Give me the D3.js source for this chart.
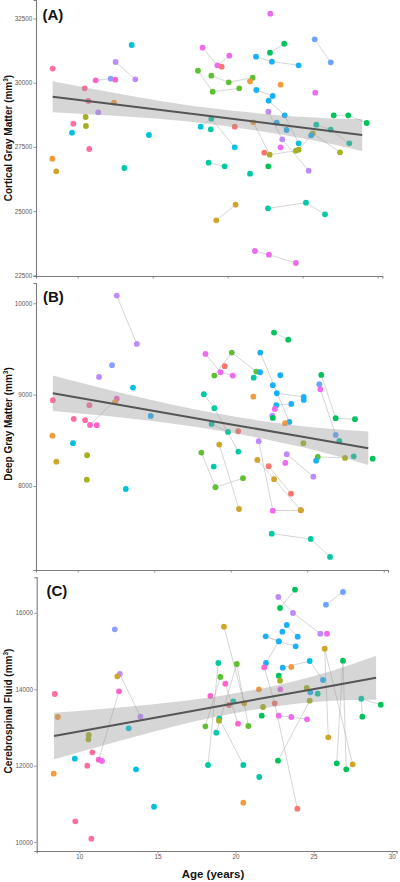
<!DOCTYPE html>
<html>
<head>
<meta charset="utf-8">
<script src="https://cdn.jsdelivr.net/npm/d3@7"></script>
<style>
  html, body { margin: 0; padding: 0; background: #fff; }
  svg { display: block; font-family: "Liberation Sans", Arial, sans-serif; }
</style>
</head>
<body>
<svg id="chart" width="400" height="882"></svg>
<script>
// ---------------- DATA ----------------
const ageTicks = [10, 15, 20, 25, 30];
const cgmTicks = [22500, 25000, 27500, 30000, 32500];
const dgmTicks = [8000, 9000, 10000];
const csfTicks = [10000, 12000, 14000, 16000];

const panelLabels = ["(A)", "(B)", "(C)"];
const yTitles = ["Cortical Gray Matter (mm", "Deep Gray Matter (mm", "Cerebrospinal Fluid (mm"];
const xTitle = "Age (years)";

// subject colour keys (ggplot hue-like palette)
const subjectColors = {
  hp: "#FF6E9E", pk: "#FF62C8", mg: "#EE6AEE", lv: "#BE8AFF", pw: "#8C9EFF",
  lb: "#6DA3FF", bl: "#1AB0F6", cy: "#00C2DC", tq: "#00C9A4", gr: "#00C25A",
  lm: "#5FC034", ol: "#A5B022", gd: "#CFA52A", or: "#F39B3A", sa: "#F8766D"
};

// [colour, subject group (0 = single scan), age, volume]
const cgmPoints = [
  ["hp",0,8.33,30550],["or",0,8.31,27040],["gd",0,8.57,26550],["hp",0,9.71,28403],
  ["cy",0,9.62,28053],["hp",0,10.47,29782],["hp",0,10.71,29287],["ol",0,10.53,28664],
  ["ol",0,10.55,28314],["hp",0,10.77,27418],["lv",0,11.37,28847],
  ["pk",1,11.20,30093],["pw",1,12.20,30156],
  ["lv",2,12.53,30806],["lv",2,13.84,30132],
  ["pk",0,12.51,30117],["or",0,12.42,29221],["cy",0,13.60,31468],["tq",0,13.11,26678],
  ["cy",0,14.75,27963],
  ["mg",3,18.33,31363],["mg",3,19.31,30678],["mg",3,20.11,31051],
  ["sa",0,19.60,30623],
  ["lm",4,18.91,30273],["lm",4,20.07,30016],["lm",4,21.67,30195],
  ["or",0,21.49,30055],
  ["lm",5,18.02,30467],["lm",5,19.00,29650],["lm",5,20.77,29782],
  ["bl",6,21.89,31012],["bl",6,22.95,30818],["bl",6,24.73,30678],
  ["gr",7,22.82,31168],["gr",7,23.77,31519],
  ["mg",0,22.84,32687],
  ["lb",8,25.80,31690],["lb",8,26.87,30794],
  ["or",0,23.53,29922],["mg",0,25.84,29611],
  ["bl",9,21.91,29716],["bl",9,23.00,29482],
  ["bl",10,22.73,29299],["bl",10,23.80,28731],["cy",10,24.73,27640],
  ["lv",11,22.71,28871],["lv",11,23.64,27796],["lv",11,25.40,26573],
  ["gr",12,27.07,28731],["gr",12,28.04,28731],["gr",12,29.27,28431],
  ["cy",13,18.20,28287],["tq",13,18.91,28598],["cy",13,20.47,27484],
  ["tq",0,18.87,28185],["sa",0,20.47,28287],
  ["or",14,21.71,28458],["ol",14,22.80,27196],["ol",14,24.55,27352],
  ["sa",0,22.44,27274],
  ["bl",15,23.27,28442],["bl",15,23.93,28158],
  ["tq",16,25.91,28365],["tq",16,26.87,28170],["tq",16,28.11,27640],
  ["ol",17,24.73,27391],["ol",17,25.67,28030],["ol",17,27.49,27290],
  ["bl",0,25.57,27952],["mg",0,23.53,27484],
  ["tq",19,18.73,26885],["tq",19,19.80,26745],
  ["tq",0,21.49,26456],["gr",0,22.71,26745],
  ["gd",20,19.24,24642],["gd",20,20.53,25249],
  ["tq",21,22.69,25109],["tq",21,25.22,25327],["tq",21,26.49,24875],
  ["mg",22,21.82,23446],["mg",22,22.75,23302],["mg",22,24.55,22979]
];

const dgmPoints = [
  ["lv",1,12.55,10084],["lv",1,13.86,9555],
  ["pw",0,12.24,9322],["lv",0,11.39,9194],["cy",0,13.61,9077],["hp",0,8.37,8939],
  ["pk",2,12.55,8956],["pk",2,10.80,8668],
  ["or",0,12.44,8917],["hp",0,10.76,8884],["bl",0,14.77,8767],["hp",0,9.74,8734],
  ["hp",0,10.48,8720],["pk",0,11.24,8665],["or",0,8.34,8551],["cy",0,9.69,8468],
  ["gd",0,8.60,8266],["ol",0,10.61,8336],["ol",0,10.59,8069],["cy",0,13.14,7967],
  ["gr",3,22.83,9679],["gr",3,23.76,9602],
  ["mg",4,18.35,9446],["mg",4,19.33,9245],["mg",4,20.13,9208],
  ["lm",5,18.93,9208],["lm",5,20.07,9460],["lm",5,21.67,9252],
  ["sa",0,19.61,9311],["tq",0,21.50,9186],
  ["bl",6,21.93,9460],["bl",6,23.83,8701],
  ["bl",0,21.92,9245],["bl",0,23.24,9212],["bl",0,22.75,9103],
  ["bl",7,23.01,9015],["bl",7,24.77,8975],
  ["bl",0,24.77,8942],
  ["bl",8,22.98,8884],["bl",8,23.96,8898],
  ["mg",0,22.88,8843],["lv",0,22.72,8770],["gr",0,22.75,8745],["or",0,21.48,8978],
  ["tq",9,18.24,9004],["tq",9,18.93,8851],["tq",9,20.50,8376],
  ["tq",10,18.75,8679],["tq",10,19.82,8592],
  ["sa",0,20.49,8599],["or",0,23.55,8687],
  ["lv",11,21.83,8490],["mg",11,22.75,7730],["mg",11,24.58,7734],
  ["gd",12,21.74,8285],["gd",12,22.83,8074],["gd",12,24.58,7734],
  ["sa",13,22.48,8216],["sa",13,23.94,7916],
  ["lv",14,23.66,8347],["lv",14,25.40,8102],
  ["mg",0,23.57,8252],["ol",0,24.75,8468],
  ["gr",15,25.92,9216],["gr",15,26.86,8742],["gr",15,28.12,8731],
  ["lb",0,25.79,9114],
  ["mg",16,25.86,9059],["lb",16,26.86,8559],
  ["tq",0,27.10,8493],
  ["lm",17,25.69,8318],["ol",17,27.47,8307],
  ["tq",0,28.04,8325],["gr",0,29.28,8299],["bl",0,25.58,8277],
  ["tq",18,22.68,7478],["tq",18,25.23,7420],["tq",18,26.49,7223],
  ["gd",19,19.25,8453],["gd",19,20.54,7748],
  ["lm",20,18.08,8365],["lm",20,19.00,7986],["lm",20,20.80,8085],
  ["tq",0,18.89,8212]
];

const csfPoints = [
  ["pw",0,12.27,15571],
  ["lv",1,12.59,14401],["lv",1,13.91,13283],
  ["gd",0,12.43,14340],["hp",0,8.43,13877],
  ["pk",2,12.54,13948],["pk",2,11.24,12157],
  ["or",0,8.62,13275],["cy",0,13.16,12979],["ol",0,10.60,12804],["ol",0,10.58,12691],
  ["hp",0,10.83,12351],["cy",0,9.71,12183],["mg",0,11.45,12123],["hp",0,10.51,12000],
  ["cy",0,13.63,11906],["or",0,8.36,11790],["cy",0,14.78,10926],["hp",0,9.74,10544],
  ["hp",0,10.77,10089],
  ["gr",3,22.85,16128],["gr",3,23.81,16608],
  ["lv",4,22.74,16416],["lv",4,23.68,15998],["lv",4,25.43,15456],
  ["mg",0,25.86,15456],
  ["lb",5,25.79,16215],["lb",5,26.88,16547],
  ["bl",6,23.28,15683],["bl",6,23.98,15377],
  ["bl",0,23.00,15508],
  ["bl",7,21.95,14689],["bl",7,22.77,15257],["bl",7,21.93,15388],["bl",7,22.77,15257],["bl",7,23.85,15126],
  ["gd",8,19.26,15639],["gd",8,20.56,13633],
  ["gd",9,25.94,12743],["gd",9,25.71,15063],["gd",9,27.50,12037],
  ["gr",10,26.48,12063],["gr",10,26.88,14749],["gr",10,27.09,11906],
  ["bl",11,23.02,14565],["cy",11,24.75,14741],["bl",11,25.60,14243],
  ["or",0,23.57,14584],
  ["pk",12,21.84,14576],["sa",12,22.51,13633],["sa",12,23.96,10874],
  ["tq",13,18.90,14689],["tq",13,18.24,12018],
  ["tq",14,18.77,12864],["lm",14,20.08,14662],["lm",14,20.82,13039],
  ["lm",15,19.03,14322],["lm",15,18.07,13031],
  ["pk",16,19.35,14147],["pk",16,20.16,13099],
  ["gr",0,22.77,14356],["ol",0,22.85,14225],["or",0,21.50,14000],["mg",0,22.87,14000],
  ["pk",0,18.39,13825],["tq",0,19.86,13686],["sa",0,19.58,13589],["ol",0,21.76,13537],
  ["ol",0,24.56,14037],["bl",0,24.79,13921],["tq",0,25.26,13885],
  ["gr",17,22.72,12131],["ol",17,24.75,13702],
  ["gr",18,29.30,13597],["tq",18,28.05,13754],["gr",18,28.12,13283],
  ["mg",19,22.77,13309],["mg",19,23.57,13275],["mg",19,24.58,13215],
  ["gr",0,21.68,13309],
  ["tq",20,18.96,13241],["tq",20,20.50,12018],
  ["ol",0,18.94,13178],["tq",0,21.52,11704],["or",0,20.50,11031]
];

// linear fit with 95% CI band: [age, fit, lower, upper]
const cgmFit = [[8.33,29455,28851,30058],[13.5,29080,28672,29490],[18.8,28700,28388,29011],[24.8,28267,27858,28676],[28.97,27963,27341,28587]];
const dgmFit = [[8.37,9015,8820,9210],[13.42,8868,8739,8996],[19.0,8704,8613,8795],[24.7,8538,8423,8653],[28.99,8413,8230,8596]];
const csfFit = [[8.38,12777,12167,13387],[13.25,13139,12725,13553],[19.0,13563,13301,13825],[24.7,13984,13657,14311],[29.0,14304,13728,14880]];

// ---------------- DRAWING ----------------
const svg = d3.select("#chart");

const layouts = [
  { points: cgmPoints, fit: cgmFit, ticks: cgmTicks, xd: [7.22, 30.31], xr: [36, 382.3], yd: [22473, 33220], yr: [276, 0], showX: false, labelY: 19.5, labelX: 42.5, titleY: 138 },
  { points: dgmPoints, fit: dgmFit, ticks: dgmTicks, xd: [7.27, 30.28], xr: [36, 388], yd: [7080, 10222], yr: [570, 283], showX: false, labelY: 301.5, labelX: 43, titleY: 424 },
  { points: csfPoints, fit: csfFit, ticks: csfTicks, xd: [7.27, 30.32], xr: [36.7, 396.7], yd: [9767, 16932], yr: [851, 577.3], showX: true, labelY: 595.5, labelX: 46.5, titleY: 711 }
];

layouts.forEach((L, i) => {
  const x = d3.scaleLinear().domain(L.xd).range(L.xr);
  const y = d3.scaleLinear().domain(L.yd).range(L.yr);
  const g = svg.append("g");

  // connectors between repeated scans of the same subject
  const groups = d3.groups(L.points.filter(p => p[1] !== 0), p => p[1]);
  const line = d3.line().x(p => x(p[2])).y(p => y(p[3]));
  g.append("g").selectAll("path").data(groups).join("path")
    .attr("d", d => line(d[1]))
    .attr("fill", "none").attr("stroke", "#b8b8b8").attr("stroke-width", 0.6);

  // points
  g.append("g").selectAll("circle").data(L.points).join("circle")
    .attr("cx", p => x(p[2])).attr("cy", p => y(p[3])).attr("r", 2.9)
    .attr("fill", p => subjectColors[p[0]]);

  // CI band (drawn over points like ggplot's geom_smooth)
  const area = d3.area().curve(d3.curveNatural)
    .x(d => x(d[0])).y0(d => y(d[2])).y1(d => y(d[3]));
  g.append("path").datum(L.fit).attr("d", area)
    .attr("fill", "#999999").attr("fill-opacity", 0.4);

  // fit line
  const fl = d3.line().x(d => x(d[0])).y(d => y(d[1]));
  g.append("path").datum(L.fit).attr("d", fl)
    .attr("fill", "none").attr("stroke", "#555555").attr("stroke-width", 2);

  // axes
  const yAxis = d3.axisLeft(y).tickValues(L.ticks).tickSize(2.5).tickPadding(1.2).tickFormat(d3.format("d"));
  const gy = g.append("g").attr("transform", `translate(${L.xr[0]},0)`).call(yAxis);
  const xAxis = d3.axisBottom(x).tickValues(ageTicks).tickSize(2.5).tickPadding(1.5)
    .tickFormat(L.showX ? d3.format("d") : () => "");
  const gx = g.append("g").attr("transform", `translate(0,${L.yr[0]})`).call(xAxis);

  [gy, gx].forEach(a => {
    a.select(".domain").attr("stroke", "#7c7c7c").attr("stroke-width", 1.1);
    a.selectAll(".tick line").attr("stroke", "#7c7c7c").attr("stroke-width", 0.8);
    a.selectAll(".tick text").attr("fill", "#5a5a5a")
      .style("font-family", "'Liberation Sans', Arial, sans-serif").style("font-size", "6.3px");
  });

  // panel label
  g.append("text").attr("x", L.labelX).attr("y", L.labelY)
    .style("font-size", "15px").style("font-weight", "bold").attr("fill", "#111")
    .text(panelLabels[i]);

  // y-axis title with superscript 3
  const t = g.append("text")
    .attr("transform", `translate(11.5,${L.titleY}) rotate(-90)`)
    .attr("text-anchor", "middle")
    .style("font-size", "10px").style("font-weight", "bold").attr("fill", "#111");
  t.append("tspan").text(yTitles[i]);
  t.append("tspan").attr("dy", -3.5).style("font-size", "6.5px").text("3");
  t.append("tspan").attr("dy", 3.5).text(")");
});

svg.append("text").attr("x", 213).attr("y", 877.5).attr("text-anchor", "middle")
  .style("font-size", "11.5px").style("font-weight", "bold").attr("fill", "#111")
  .text(xTitle);
</script>
</body>
</html>
